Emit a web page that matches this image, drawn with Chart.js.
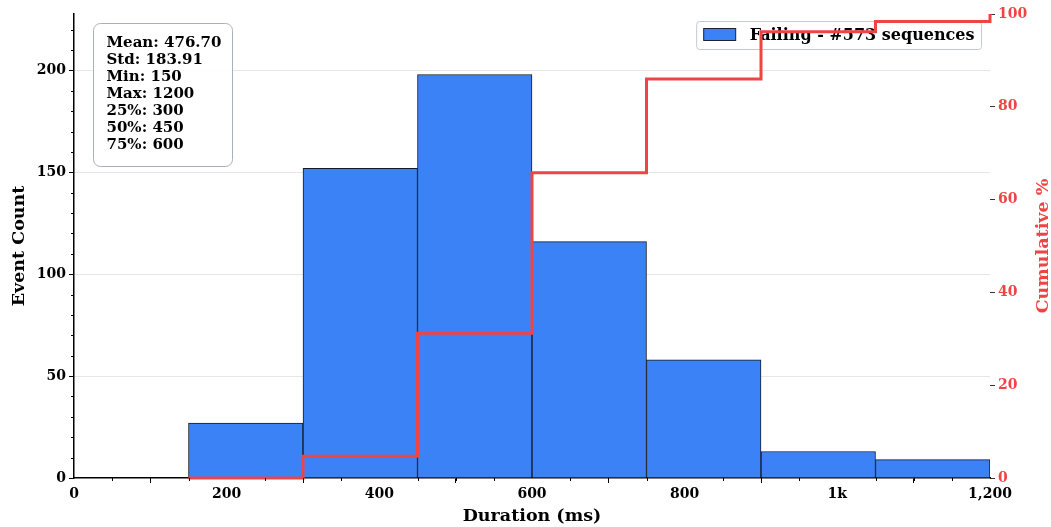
<!DOCTYPE html>
<html>
<head>
<meta charset="utf-8">
<script src="https://cdn.jsdelivr.net/npm/chart.js@4.4.1/dist/chart.umd.min.js"></script>
<style>
  html, body { margin: 0; padding: 0; background: #fff; }
  #wrap { width: 1051px; height: 527px; position: relative; }
</style>
</head>
<body>
<div id="wrap"><canvas id="myChart" width="1051" height="527"></canvas></div>
<script>
// histogram bins (ms) and counts
const binCenters = [225, 375, 525, 675, 825, 975, 1125];
const counts = [27, 152, 198, 116, 58, 13, 9];
// cumulative % at bin edges
const edges = [150, 300, 450, 600, 750, 900, 1050, 1200];
const cumPct = [0, 4.7, 31.2, 65.8, 86.0, 96.2, 98.4, 100];
const xTicks = [0, 200, 400, 600, 800, 1000, 1200];
const statsLines = ['Mean: 476.70', 'Std: 183.91', 'Min: 150', 'Max: 1200', '25%: 300', '50%: 450', '75%: 600'];
const legendLabel = 'Failing - #573 sequences';

const FONT = "'DejaVu Serif', serif";
const RED = '#ef4444';
const BLUE = '#3b82f6';

// minor ticks + overlays (stats box, legend) drawn under the red line
const overlay = {
  id: 'overlay',
  afterDatasetDraw(chart, args) {
    if (args.index !== 0) return;
    const ctx = chart.ctx;
    const a = chart.chartArea;
    ctx.save();
    // stats box
    ctx.font = 'bold 15px ' + FONT;
    const bx = a.left + 19.5, by = a.top + 9.5, bw = 139, bh = 143;
    ctx.beginPath();
    ctx.roundRect(bx, by, bw, bh, 7);
    ctx.fillStyle = 'rgba(255,255,255,0.9)';
    ctx.fill();
    ctx.strokeStyle = '#aab0bb';
    ctx.lineWidth = 1;
    ctx.stroke();
    ctx.fillStyle = '#000';
    ctx.textBaseline = 'middle';
    statsLines.forEach((s, i) => ctx.fillText(s, bx + 13, by + 20 + i * 17));
    // legend
    ctx.font = 'bold 16px ' + FONT;
    const tw = ctx.measureText(legendLabel).width;
    const lw = tw + 60, lh = 28;
    const lx = a.right - 8.5 - lw, ly = a.top + 7.5;
    ctx.beginPath();
    ctx.roundRect(lx, ly, lw, lh, 3);
    ctx.fillStyle = 'rgba(255,255,255,0.85)';
    ctx.fill();
    ctx.strokeStyle = '#c4c8d0';
    ctx.stroke();
    ctx.fillStyle = BLUE;
    ctx.fillRect(lx + 7, ly + 7, 32, 12);
    ctx.strokeStyle = '#1a2233';
    ctx.strokeRect(lx + 7, ly + 7, 32, 12);
    ctx.fillStyle = '#000';
    ctx.fillText(legendLabel, lx + 53, ly + 14);
    ctx.restore();
  },
  afterDraw(chart) {
    const ctx = chart.ctx;
    const a = chart.chartArea;
    const x = chart.scales.x, y = chart.scales.y;
    ctx.save();
    ctx.strokeStyle = '#000';
    ctx.lineWidth = 1;
    ctx.beginPath();
    for (let v = 0; v <= y.max; v += 10) {
      if (v % 50 === 0) continue;
      const py = Math.round(y.getPixelForValue(v)) + 0.5;
      ctx.moveTo(a.left - 3, py); ctx.lineTo(a.left, py);
    }
    for (let v = 0; v <= x.max; v += 50) {
      if (v % 200 === 0) continue;
      const px = Math.round(x.getPixelForValue(v)) + 0.5;
      ctx.moveTo(px, a.bottom); ctx.lineTo(px, a.bottom + 3);
    }
    ctx.stroke();
    // right axis title, reading bottom to top
    ctx.translate(1043, (a.top + a.bottom) / 2);
    ctx.rotate(-Math.PI / 2);
    ctx.font = 'bold 17.5px ' + FONT;
    ctx.fillStyle = RED;
    ctx.textAlign = 'center';
    ctx.textBaseline = 'middle';
    ctx.fillText('Cumulative %', 0, 0);
    ctx.restore();
  }
};

const ctx = document.getElementById('myChart');
new Chart(ctx, {
  type: 'bar',
  data: {
    datasets: [{
      type: 'bar',
      label: legendLabel,
      data: binCenters.map((c, i) => ({ x: c, y: counts[i] })),
      backgroundColor: BLUE,
      borderColor: '#111827',
      borderWidth: 1,
      barPercentage: 1,
      categoryPercentage: 1,
      yAxisID: 'y',
      order: 1
    }, {
      type: 'line',
      label: 'Cumulative %',
      data: edges.map((e, i) => ({ x: e, y: cumPct[i] })),
      borderColor: RED,
      borderWidth: 3,
      stepped: 'before',
      pointRadius: 0,
      fill: false,
      yAxisID: 'y1',
      order: 0,
      clip: false
    }]
  },
  plugins: [overlay],
  options: {
    responsive: false,
    animation: false,
    layout: { padding: { top: 14, left: 0, right: 0, bottom: 0 } },
    plugins: { legend: { display: false }, tooltip: { enabled: false } },
    scales: {
      x: {
        type: 'linear',
        min: 0, max: 1200,
        offset: false,
        afterBuildTicks: s => { s.ticks = xTicks.map(v => ({ value: v })); },
        afterFit: s => { s.height = 49; },
        ticks: {
          color: '#000',
          font: { family: FONT, weight: 'bold', size: 14 },
          padding: 3,
          maxRotation: 0,
          callback: v => v === 1000 ? '1k' : v.toLocaleString('en-US')
        },
        grid: { drawOnChartArea: false, tickLength: 5, tickColor: '#000' },
        border: { color: '#000', width: 1.5 },
        title: {
          display: true, text: 'Duration (ms)', color: '#000',
          font: { family: FONT, weight: 'bold', size: 17.5 }, padding: { top: 0, bottom: 0 }
        }
      },
      y: {
        position: 'left',
        min: 0, max: 227.7,
        afterBuildTicks: s => { s.ticks = s.ticks.filter(t => t.value % 50 === 0); },
        afterFit: s => { s.width = 74; },
        ticks: {
          stepSize: 50,
          color: '#000',
          font: { family: FONT, weight: 'bold', size: 14 },
          padding: 3
        },
        grid: {
          color: c => (c.tick && c.tick.value > 0) ? '#e6e6e6' : 'rgba(0,0,0,0)',
          tickColor: '#000',
          tickLength: 5,
          lineWidth: 1
        },
        border: { color: '#000', width: 1.5 },
        title: {
          display: true, text: 'Event Count', color: '#000',
          font: { family: FONT, weight: 'bold', size: 17.5 }, padding: { top: 9, bottom: 0 }
        }
      },
      y1: {
        position: 'right',
        min: 0, max: 100,
        afterFit: s => { s.width = 61; },
        ticks: {
          stepSize: 20,
          color: RED,
          font: { family: FONT, weight: 'bold', size: 14 },
          padding: 3
        },
        grid: { drawOnChartArea: false, tickColor: '#333', tickLength: 5 },
        border: { display: false }
      }
    }
  }
});
</script>
</body>
</html>
